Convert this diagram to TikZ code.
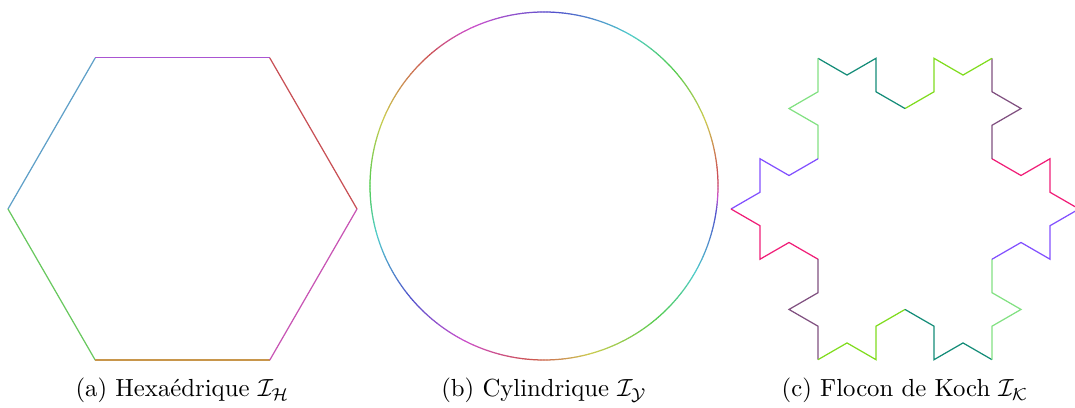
\documentclass[tikz,border=0pt]{standalone}
\usepackage{amsmath, amssymb}
\usepackage{xcolor}
\usepackage{tikz}

\definecolor{hexA}{RGB}{200,80,85}
\definecolor{hexB}{RGB}{170,85,210}
\definecolor{hexC}{RGB}{95,160,200}
\definecolor{hexD}{RGB}{105,200,95}
\definecolor{hexE}{RGB}{200,150,75}
\definecolor{hexF}{RGB}{200,85,180}
\definecolor{kpink}{RGB}{240,30,120}
\definecolor{kmauve}{RGB}{128,80,128}
\definecolor{klime}{RGB}{128,220,30}
\definecolor{kteal}{RGB}{20,140,120}
\definecolor{klgreen}{RGB}{130,225,130}
\definecolor{kviolet}{RGB}{130,80,255}

\begin{document}
\begin{tikzpicture}[
    x=0.0142cm, y=0.0142cm,
    edge/.style={line width=0.5pt},
    subcap/.style={anchor=base, font=\normalsize},
]
\useasboundingbox (0,0) rectangle (1075,408);

% (a) hexagon
\coordinate (hexc) at (182.5,199);
\foreach \a/\c in {0/hexA, 60/hexB, 120/hexC, 180/hexD, 240/hexE, 300/hexF}
    \draw[edge, \c] ([shift={(\a:174.5)}]hexc) -- ([shift={(\a+60:174.5)}]hexc);

% (b) circle, hue running round
\coordinate (cylc) at (544,222);
\foreach \ta/\ha/\tb/\hb in {0/-15/4/0, 4/0/22/60, 22/60/39/110, 39/110/60/180,
        60/180/90/250, 90/250/118/310, 118/310/131/360, 131/360/157/420,
        157/420/180/480, 180/480/196/540, 196/540/220/600, 220/600/235/640,
        235/640/265/720, 265/720/285/780, 285/780/311/840, 311/840/330/900,
        330/900/351/960, 351/960/360/1065}{
    \pgfmathtruncatemacro{\tend}{\tb-1}
    \foreach \t in {\ta,...,\tend}{
        \pgfmathsetmacro{\h}{mod(\ha+(\t-\ta)*(\hb-\ha)/(\tb-\ta)+720,360)}
        \definecolor{arcc}{Hsb}{\h,0.6,0.8}
        \draw[edge, arcc, line cap=round] ([shift={(\t:174)}]cylc)
            arc[start angle=\t, end angle=\t+1, radius=174];
    }
}

% (c) Koch snowflake, second step
\coordinate (kochc) at (905,199);
\foreach \j/\ca/\cb in {0/kpink/kmauve, 1/klime/kteal, 2/klgreen/kviolet,
        3/kpink/kmauve, 4/klime/kteal, 5/klgreen/kviolet}{
    \draw[edge, \ca] ([shift={(60*\j:174)}]kochc) -- ++(60*\j+150:33.49)
        -- ++(60*\j+90:33.49) -- ++(60*\j+210:33.49) -- ++(60*\j+150:33.49);
    \draw[edge, \cb] ([shift={(60*\j+30:100.46)}]kochc) -- ++(60*\j+90:33.49)
        -- ++(60*\j+30:33.49) -- ++(60*\j+150:33.49) -- ++(60*\j+90:33.49);
}

\node[subcap] (capa) at (182.5,11) {(a) Hexaédrique $\mathcal{I}_{\mathcal{H}}$};
\node[subcap] (capb) at (544,11) {(b) Cylindrique $\mathcal{I}_{\mathcal{Y}}$};
\node[subcap] (capc) at (905,11) {(c) Flocon de Koch $\mathcal{I}_{\mathcal{K}}$};
\end{tikzpicture}
\end{document}
